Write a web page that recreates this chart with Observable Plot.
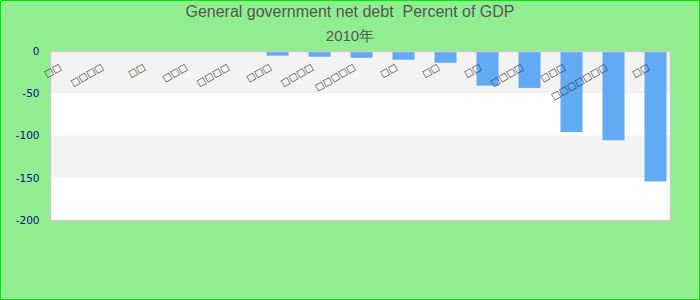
<!DOCTYPE html>
<html>
<head>
<meta charset="utf-8">
<script src="https://cdn.jsdelivr.net/npm/d3@7"></script>
<script src="https://cdn.jsdelivr.net/npm/@observablehq/plot@0.6"></script>
<style>
  html, body { margin: 0; padding: 0; }
  #wrap {
    position: relative; width: 700px; height: 300px; box-sizing: border-box;
    background: #90EE90; box-shadow: inset 0 0 0 1px #00e600; overflow: hidden;
  }
  .title {
    position: absolute; left: 0; width: 700px; text-align: center;
    font-family: "Liberation Sans", Arial, sans-serif; color: #555555;
  }
  #t1 { top: 3px; font-size: 16px; }
  #t2 { top: 27px; font-size: 15px; }
  #chart { position: absolute; left: 0; top: 0; }
</style>
</head>
<body>
<div id="wrap">
  <div id="chart"></div>
  <div class="title" id="t1">General government net debt&nbsp; Percent of GDP</div>
  <div class="title" id="t2">2010年</div>
</div>
<script>
// Category labels (rendered as missing-glyph boxes in the reference)
const categories = ["□□","□□□□","□□","□□□","□□□□","□□□","□□□□","□□□□□","□□","□□","□□","□□□□","□□□","□□□□□□□","□□"];
// Net debt values, percent of GDP, 2010
const values = [0, 0, 0, 0, 0, -5.5, -6.8, -8, -10.4, -14, -41, -43.7, -96, -105.6, -154.4];
const yTicks = [0, -50, -100, -150, -200];
const yDomain = [-200, 0];
const gridBands = [[0, -50], [-100, -150]];

const data = categories.map((label, i) => ({i, label, value: values[i]}));

const chart = Plot.plot({
  width: 700,
  height: 300,
  marginTop: 51,
  marginBottom: 80,
  marginLeft: 50,
  marginRight: 30,
  style: {background: "transparent", fontFamily: "DejaVu Sans, sans-serif"},
  x: {domain: d3.range(categories.length), paddingInner: 0.47, paddingOuter: 0, axis: null},
  y: {domain: yDomain, label: null},
  marks: [
    Plot.frame({fill: "white"}),
    Plot.rect(gridBands, {y1: d => d[0], y2: d => d[1], fill: "#f3f3f3"}),
    Plot.barY(data, {x: "i", y: "value", fill: "#62aaf4", dx: 1.5}),
    Plot.frame({stroke: "#cccccc", strokeWidth: 1.5}),
    Plot.axisY({ticks: yTicks, tickSize: 0, tickPadding: 11, color: "#0c0c8c", fontSize: 10.5, label: null, tickFormat: d => String(d)}),
    Plot.text(data, {
      x: "i", text: "label", frameAnchor: "top", dy: 14.5, dx: -6,
      rotate: -30, textAnchor: "end", lineAnchor: "middle",
      fontSize: 9.5, fill: "#333333"
    })
  ]
});
document.getElementById("chart").appendChild(chart);
</script>
</body>
</html>
